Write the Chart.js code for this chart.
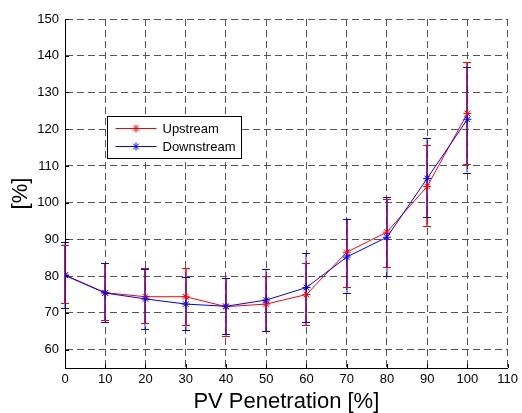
<!DOCTYPE html>
<html lang="en">
<head>
<meta charset="UTF-8">
<title>PV Penetration</title>
<style>
    html, body { margin: 0; padding: 0; background: #fff; }
    #wrap { width: 522px; height: 413px; }
</style>
</head>
<body>
<div id="wrap"><canvas id="myChart"></canvas></div>

<script src="https://cdn.jsdelivr.net/npm/chart.js"></script>
<script>
    // data
    let penetration = [0, 10, 20, 30, 40, 50, 60, 70, 80, 90, 100];

    let upstream     = [80.3, 75.5, 74.4, 74.4, 71.7, 72.4, 75.0, 86.5, 92.0, 104.4, 124.3];
    let upstreamHigh = [88.5, 83.6, 82.2, 82.2, 79.4, 80.0, 83.5, 95.6, 101.0, 115.6, 138.2];
    let upstreamLow  = [72.7, 68.0, 67.3, 66.7, 63.8, 65.0, 66.6, 77.0, 82.5, 93.7, 110.4];

    let downstream     = [80.2, 75.4, 73.8, 72.4, 71.8, 73.5, 76.9, 85.2, 90.6, 106.6, 122.7];
    let downstreamHigh = [89.2, 83.5, 82.0, 79.9, 79.5, 81.9, 86.3, 95.6, 101.5, 117.7, 137.0];
    let downstreamLow  = [71.3, 67.6, 65.6, 65.3, 64.2, 65.0, 67.4, 75.3, 80.0, 96.0, 108.2];

    let xTicks = [0, 10, 20, 30, 40, 50, 60, 70, 80, 90, 100, 110];
    let yTicks = [60, 70, 80, 90, 100, 110, 120, 130, 140, 150];

    const RED = '#ff0000';
    const BLUE = '#0000ff';
    const FONT = 'Arial, "Liberation Sans", sans-serif';

    function toPoints(ys) {
        return penetration.map((x, i) => ({ x: x, y: ys[i] }));
    }

    // error bars, drawn with the chart's own scales
    const errorBars = {
        id: 'errorBars',
        beforeDatasetsDraw(chart) {
            const ctx = chart.ctx;
            const xs = chart.scales.x, ys = chart.scales.y;
            const sets = [
                { lo: upstreamLow, hi: upstreamHigh, color: RED, alpha: 1 },
                { lo: downstreamLow, hi: downstreamHigh, color: BLUE, alpha: 0.6 },
            ];
            ctx.save();
            ctx.lineWidth = 1.5;
            // stems first (blue over red turns purple where they overlap)
            sets.forEach(s => {
                ctx.strokeStyle = s.color;
                ctx.globalAlpha = s.alpha;
                ctx.beginPath();
                for (let i = 0; i < penetration.length; i++) {
                    const px = Math.round(xs.getPixelForValue(penetration[i]));
                    ctx.moveTo(px, ys.getPixelForValue(s.lo[i]));
                    ctx.lineTo(px, ys.getPixelForValue(s.hi[i]));
                }
                ctx.stroke();
            });
            // caps
            ctx.globalAlpha = 1;
            ctx.lineWidth = 1;
            sets.forEach(s => {
                ctx.strokeStyle = s.color;
                ctx.beginPath();
                for (let i = 0; i < penetration.length; i++) {
                    const px = Math.round(xs.getPixelForValue(penetration[i]));
                    [s.lo[i], s.hi[i]].forEach(v => {
                        const py = Math.round(ys.getPixelForValue(v)) + 0.5;
                        ctx.moveTo(px - 4, py);
                        ctx.lineTo(px + 4, py);
                    });
                }
                ctx.stroke();
            });
            ctx.restore();
        }
    };

    // inward tick marks and legend box inside the axes
    const decorations = {
        id: 'decorations',
        afterDraw(chart) {
            const ctx = chart.ctx;
            const a = chart.chartArea;
            const xs = chart.scales.x, ys = chart.scales.y;
            ctx.save();
            ctx.strokeStyle = '#000';
            ctx.lineWidth = 1;
            ctx.beginPath();
            yTicks.forEach(v => {
                const py = Math.round(ys.getPixelForValue(v)) + 0.5;
                ctx.moveTo(a.left, py);
                ctx.lineTo(a.left + 4, py);
            });
            xTicks.forEach(v => {
                const px = Math.round(xs.getPixelForValue(v)) + 0.5;
                ctx.moveTo(px, a.bottom);
                ctx.lineTo(px, a.bottom - 4);
            });
            ctx.stroke();

            // legend
            const lx = a.left + 42.5, ly = a.top + 97.5, lw = 134, lh = 42;
            ctx.fillStyle = '#fff';
            ctx.fillRect(lx, ly, lw, lh);
            ctx.strokeRect(lx, ly, lw, lh);
            const items = [
                { text: 'Upstream', color: RED },
                { text: 'Downstream', color: BLUE },
            ];
            ctx.font = '13px ' + FONT;
            ctx.textBaseline = 'middle';
            items.forEach((it, i) => {
                const cy = ly + 12 + i * 18;
                ctx.strokeStyle = it.color;
                ctx.beginPath();
                ctx.moveTo(lx + 8, cy);
                ctx.lineTo(lx + 49, cy);
                ctx.stroke();
                Chart.helpers.drawPoint(ctx, {
                    pointStyle: 'star', radius: 4, borderWidth: 1, rotation: 0
                }, lx + 28.5, cy);
                ctx.fillStyle = '#000';
                ctx.fillText(it.text, lx + 55, cy + 1);
            });
            ctx.restore();
        }
    };

    const ctx = document.getElementById('myChart');

    let datasets = [
        {
            label: 'Upstream',
            data: toPoints(upstream),
            borderColor: RED,
            backgroundColor: RED,
            borderWidth: 1,
            pointStyle: 'star',
            pointRadius: 4,
            pointBorderWidth: 1,
            order: 1,
        },
        {
            label: 'Downstream',
            data: toPoints(downstream),
            borderColor: BLUE,
            backgroundColor: BLUE,
            borderWidth: 1,
            pointStyle: 'star',
            pointRadius: 4,
            pointBorderWidth: 1,
            order: 0,
        },
    ];

    let options = {
        responsive: true,
        maintainAspectRatio: false,
        animation: false,
        layout: { padding: { top: 19, right: 12, left: 0, bottom: 0 } },
        plugins: {
            legend: { display: false },
            tooltip: { enabled: false },
        },
        scales: {
            x: {
                type: 'linear',
                min: 0,
                max: 110,
                afterBuildTicks: s => { s.ticks = xTicks.map(v => ({ value: v })); },
                afterFit: s => { s.height = 45; },
                ticks: { color: '#000', font: { family: FONT, size: 13 }, padding: 4, maxRotation: 0 },
                grid: { color: '#555', lineWidth: 1, drawTicks: false },
                border: { display: true, color: '#000', width: 1, dash: [7, 4] },
                title: {
                    display: true,
                    text: 'PV Penetration [%]',
                    color: '#000',
                    font: { family: FONT, size: 22, lineHeight: 1 },
                    padding: { top: 0, bottom: 0 },
                },
            },
            y: {
                type: 'linear',
                min: 55,
                max: 150,
                afterBuildTicks: s => { s.ticks = yTicks.map(v => ({ value: v })); },
                afterFit: s => { s.width = 65; },
                ticks: { color: '#000', font: { family: FONT, size: 13 }, padding: 6 },
                grid: { color: '#555', lineWidth: 1, drawTicks: false },
                border: { display: true, color: '#000', width: 1, dash: [7, 4] },
                title: {
                    display: true,
                    text: '[%]',
                    color: '#000',
                    font: { family: FONT, size: 22, lineHeight: 1.2 },
                    padding: { top: 8, bottom: 0 },
                },
            },
        },
    };

    new Chart(ctx, {
        type: 'line',
        data: { datasets: datasets },
        options: options,
        plugins: [errorBars, decorations],
    });
</script>
</body>
</html>
